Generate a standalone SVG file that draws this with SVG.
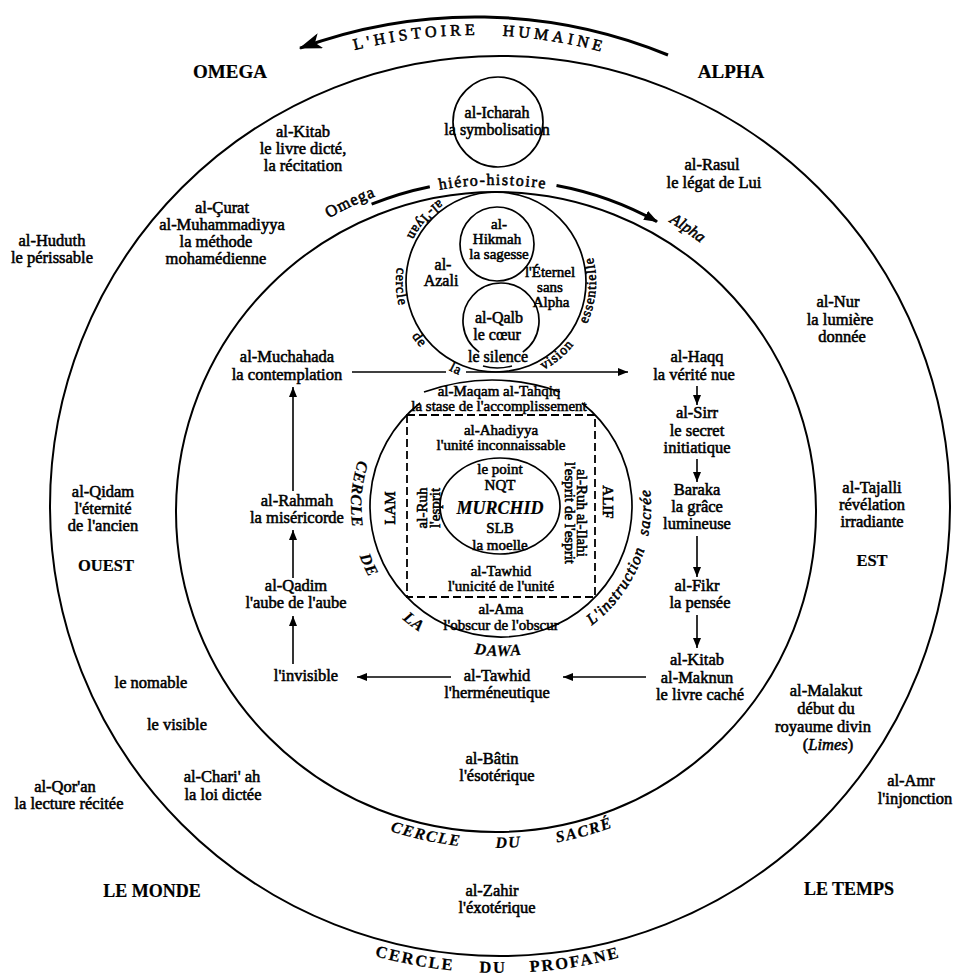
<svg xmlns="http://www.w3.org/2000/svg" width="961" height="979" viewBox="0 0 961 979">
<defs>
<style>
.t{font-family:"Liberation Serif","Times New Roman",serif;font-size:16.5px;text-anchor:middle;fill:#000;stroke:#000;stroke-width:0.55}
.s{font-size:16px}
.h{font-size:15px}
.m{font-size:15px}
.xs{font-size:14px}
.b{font-weight:bold;stroke-width:0.2}
.big{font-size:19px}
.i{font-style:italic}
.c{fill:none;stroke:#000;stroke-width:2}
.c1{fill:none;stroke:#000;stroke-width:1.7}
.a{fill:none;stroke:#000;stroke-width:1.6}
.d{fill:none;stroke:#000;stroke-width:1.8;stroke-dasharray:8 4}
</style>
<marker id="ah" viewBox="0 0 10 8" refX="10" refY="4" markerWidth="10" markerHeight="8" markerUnits="userSpaceOnUse" orient="auto"><path d="M0,0 L10,4 L0,8 Z"/></marker>
<marker id="bh" viewBox="0 0 20 14" refX="19" refY="7" markerWidth="24" markerHeight="16" markerUnits="userSpaceOnUse" orient="auto"><path d="M0,0 L20,7 L0,14 L5,7 Z"/></marker>
<marker id="mh" viewBox="0 0 14 10" refX="13" refY="5" markerWidth="14" markerHeight="10" markerUnits="userSpaceOnUse" orient="auto"><path d="M0,0 L14,5 L0,10 Z"/></marker>
<path id="pHist" d="M15.5,356.8 A489,489 0 0 1 934.5,356.8"/>
<path id="pHero" d="M188.7,400.2 A327,327 0 0 1 803.3,400.2"/>
<path id="pOA" d="M178.4,396.4 A338,338 0 0 1 813.6,396.4"/>
<path id="pVis" d="M496,182 A100,100 0 1 0 496,382 A100,100 0 1 0 496,182"/>
<path id="pDawa" d="M501,356 A150,150 0 1 0 501,656 A150,150 0 1 0 501,356"/>
<path id="pSac" d="M496,176 A336,336 0 1 0 496,848 A336,336 0 1 0 496,176"/>
<path id="pProf" d="M500,39 A467,467 0 1 0 500,973 A467,467 0 1 0 500,39"/>
</defs>
<rect width="961" height="979" fill="#fff"/>

<g id="rings">
<circle id="cercle-profane" class="c" cx="500" cy="506" r="450"/>
<circle id="cercle-sacre" class="c" cx="496" cy="512" r="320"/>
<circle id="cercle-vision" class="c1" cx="496" cy="282" r="90"/>
<circle id="cercle-hikmah" class="c1" cx="497" cy="244" r="37"/>
<path id="cercle-qalb" class="c1" d="M479.2,352.1 A38,38 0 1 1 522.8,352.1"/>
<path class="a" d="M483,366 Q497,370 512,366"/>
<circle id="cercle-icharah" class="c1" cx="498" cy="122" r="45"/>
<path id="cercle-dawa" class="c1" d="M420.1,403 A131,131 0 1 0 581.9,403"/>
<path class="c1" d="M424,392 Q492,368 560,392"/>
<rect id="carre" class="d" x="407" y="415" width="188" height="182"/>
<ellipse id="cercle-murchid" class="c1" cx="500" cy="506" rx="60" ry="48"/>
</g>

<g id="connectors">
<path d="M668,55 A507,507 0 0 0 300,48.2" fill="none" stroke="#000" stroke-width="3" marker-end="url(#bh)"/>
<path d="M371.6,204.2 A332,332 0 0 1 429.8,186.7" fill="none" stroke="#000" stroke-width="3"/>
<path d="M556.5,185.5 A332,332 0 0 1 657,221.6" fill="none" stroke="#000" stroke-width="3" marker-end="url(#mh)"/>
<path class="a" d="M352,372 L446,372"/>
<path class="a" d="M466,372 L628,372" marker-end="url(#ah)"/>
<path class="a" d="M697,386 L697,405" marker-end="url(#ah)"/>
<path class="a" d="M697,459 L697,482" marker-end="url(#ah)"/>
<path class="a" d="M697,536 L697,577" marker-end="url(#ah)"/>
<path class="a" d="M697,615 L697,648" marker-end="url(#ah)"/>
<path class="a" d="M646,677 L563,677" marker-end="url(#ah)"/>
<path class="a" d="M451,677 L357,677" marker-end="url(#ah)"/>
<path class="a" d="M293,664 L293,616" marker-end="url(#ah)"/>
<path class="a" d="M293,578 L293,530" marker-end="url(#ah)"/>
<path class="a" d="M293,491 L293,387" marker-end="url(#ah)"/>
</g>

<g id="ring-labels">
<text class="t s" letter-spacing="4" word-spacing="16"><textPath href="#pHist" startOffset="50.4%">L'HISTOIRE HUMAINE</textPath></text>
<text class="t s" letter-spacing="1.5"><textPath href="#pHero" startOffset="49.6%">hiéro-histoire</textPath></text>
<text class="t" letter-spacing="1"><textPath href="#pOA" startOffset="32%">Omega</textPath></text>
<text class="t s i" style="text-anchor:start"><textPath href="#pOA" startOffset="72%">Alpha</textPath></text>
<g class="t xs" letter-spacing="1">
<text><textPath href="#pVis" startOffset="13.6%">al-'Iyan</textPath></text>
<text><textPath href="#pVis" startOffset="25.8%">cercle</textPath></text>
<text><textPath href="#pVis" startOffset="35.3%">de</textPath></text>
<text><textPath href="#pVis" startOffset="43.1%">la</textPath></text>
<text><textPath href="#pVis" startOffset="61.1%">vision</textPath></text>
<text><textPath href="#pVis" startOffset="73.6%">essentielle</textPath></text>
</g>
<g class="t s b i" letter-spacing="1">
<text><textPath href="#pDawa" startOffset="23.7%">CERCLE</textPath></text>
<text><textPath href="#pDawa" startOffset="31.7%">DE</textPath></text>
<text><textPath href="#pDawa" startOffset="39.75%">LA</textPath></text>
<text><textPath href="#pDawa" startOffset="49.7%">DAWA</textPath></text>
</g>
<text class="t s i" letter-spacing="1" word-spacing="8"><textPath href="#pDawa" startOffset="68.6%">L'instruction sacrée</textPath></text>
<g class="t s b i" letter-spacing="1.5">
<text><textPath href="#pSac" startOffset="46.6%">CERCLE</textPath></text>
<text><textPath href="#pSac" startOffset="50.6%">DU</textPath></text>
<text><textPath href="#pSac" startOffset="54.3%">SACRÉ</textPath></text>
</g>
<g class="t b" letter-spacing="2">
<text><textPath href="#pProf" startOffset="47.05%">CERCLE</textPath></text>
<text><textPath href="#pProf" startOffset="49.76%">DU</textPath></text>
<text><textPath href="#pProf" startOffset="52.6%">PROFANE</textPath></text>
</g>
</g>

<g id="n-omega"><text class="t b big" x="230" y="78">OMEGA</text></g>
<g id="n-alpha"><text class="t b big" x="731" y="78">ALPHA</text></g>
<g id="n-icharah"><text class="t s"><tspan x="497" y="118">al-Icharah</tspan><tspan x="497" y="135">la symbolisation</tspan></text></g>
<g id="n-kitab-dicte"><text class="t"><tspan x="303" y="137">al-Kitab</tspan><tspan x="303" y="154">le livre dicté,</tspan><tspan x="303" y="171">la récitation</tspan></text></g>
<g id="n-rasul"><text class="t"><tspan x="712" y="170">al-Rasul</tspan><tspan x="714" y="188">le légat de Lui</tspan></text></g>
<g id="n-curat"><text class="t"><tspan x="222" y="213">al-Çurat</tspan><tspan x="222" y="230">al-Muhammadiyya</tspan><tspan x="216" y="247">la méthode</tspan><tspan x="216" y="264">mohamédienne</tspan></text></g>
<g id="n-huduth"><text class="t"><tspan x="52" y="246">al-Huduth</tspan><tspan x="52" y="263">le périssable</tspan></text></g>
<g id="n-nur"><text class="t"><tspan x="838" y="307">al-Nur</tspan><tspan x="840" y="325">la lumière</tspan><tspan x="842" y="342">donnée</tspan></text></g>
<g id="n-hikmah"><text class="t h"><tspan x="499" y="229">al-</tspan><tspan x="497" y="244">Hikmah</tspan><tspan x="499" y="259">la sagesse</tspan></text></g>
<g id="n-azali"><text class="t s"><tspan x="443" y="270">al-</tspan><tspan x="441" y="286">Azali</tspan></text></g>
<g id="n-eternel"><text class="t h"><tspan x="550" y="277">l'Éternel</tspan><tspan x="550" y="292">sans</tspan><tspan x="551" y="307">Alpha</tspan></text></g>
<g id="n-qalb"><text class="t s"><tspan x="499" y="323">al-Qalb</tspan><tspan x="497" y="340">le cœur</tspan><tspan x="498" y="362">le silence</tspan></text></g>
<g id="n-muchahada"><text class="t"><tspan x="287" y="362">al-Muchahada</tspan><tspan x="287" y="380">la contemplation</tspan></text></g>
<g id="n-haqq"><text class="t"><tspan x="697" y="362">al-Haqq</tspan><tspan x="694" y="380">la vérité nue</tspan></text></g>
<g id="n-maqam"><text class="t m"><tspan x="499" y="396">al-Maqam al-Tahqiq</tspan><tspan x="499" y="411">la stase de l'accomplissement</tspan></text></g>
<g id="n-sirr"><text class="t"><tspan x="697" y="418">al-Sirr</tspan><tspan x="697" y="436">le secret</tspan><tspan x="697" y="453">initiatique</tspan></text></g>
<g id="n-qidam"><text class="t"><tspan x="103" y="497">al-Qidam</tspan><tspan x="103" y="514">l'éternité</tspan><tspan x="103" y="531">de l'ancien</tspan></text></g>
<g id="n-ouest"><text class="t b" x="106" y="571">OUEST</text></g>
<g id="n-rahmah"><text class="t"><tspan x="297" y="506">al-Rahmah</tspan><tspan x="297" y="523">la miséricorde</tspan></text></g>
<g id="n-baraka"><text class="t"><tspan x="697" y="495">Baraka</tspan><tspan x="697" y="512">la grâce</tspan><tspan x="697" y="529">lumineuse</tspan></text></g>
<g id="n-tajalli"><text class="t"><tspan x="872" y="493">al-Tajalli</tspan><tspan x="872" y="510">révélation</tspan><tspan x="872" y="527">irradiante</tspan></text></g>
<g id="n-est"><text class="t b" x="872" y="566">EST</text></g>
<g id="n-ahadiyya"><text class="t m"><tspan x="501" y="435">al-Ahadiyya</tspan><tspan x="501" y="450">l'unité inconnaissable</tspan></text></g>
<g id="n-murchid"><text class="t m"><tspan x="500" y="474">le point</tspan><tspan x="500" y="490">NQT</tspan><tspan x="500" y="514" class="b i" style="font-size:18px">MURCHID</tspan><tspan x="500" y="533">SLB</tspan><tspan x="500" y="550">la moelle</tspan></text></g>
<g id="n-ruh"><text class="t m" transform="translate(427,508) rotate(-90)">al-Ruh</text><text class="t m" transform="translate(440,508) rotate(-90)">l'esprit</text></g>
<g id="n-ruh-ilahi"><text class="t m" transform="translate(577,513) rotate(90)">al-Ruh al-Ilahi</text><text class="t m" transform="translate(565,513) rotate(90)">l'esprit de l'esprit</text></g>
<g id="n-lam"><text class="t m" transform="translate(395,508) rotate(-90)">LAM</text></g>
<g id="n-alif"><text class="t m" transform="translate(603,502) rotate(90)">ALIF</text></g>
<g id="n-tawhid-unite"><text class="t m"><tspan x="501" y="576">al-Tawhid</tspan><tspan x="501" y="591">l'unicité de l'unité</tspan></text></g>
<g id="n-ama"><text class="t m"><tspan x="501" y="614">al-Ama</tspan><tspan x="501" y="630">l'obscur de l'obscur</tspan></text></g>
<g id="n-qadim"><text class="t"><tspan x="296" y="591">al-Qadim</tspan><tspan x="296" y="608">l'aube de l'aube</tspan></text></g>
<g id="n-fikr"><text class="t"><tspan x="697" y="591">al-Fikr</tspan><tspan x="700" y="608">la pensée</tspan></text></g>
<g id="n-kitab-maknun"><text class="t"><tspan x="697" y="665">al-Kitab</tspan><tspan x="697" y="683">al-Maknun</tspan><tspan x="700" y="700">le livre caché</tspan></text></g>
<g id="n-invisible"><text class="t" x="306" y="681">l'invisible</text></g>
<g id="n-tawhid-herm"><text class="t"><tspan x="497" y="681">al-Tawhid</tspan><tspan x="497" y="698">l'herméneutique</tspan></text></g>
<g id="n-nomable"><text class="t" x="151" y="688">le nomable</text></g>
<g id="n-visible"><text class="t" x="177" y="730">le visible</text></g>
<g id="n-chariah"><text class="t"><tspan x="222" y="782">al-Chari' ah</tspan><tspan x="223" y="800">la loi dictée</tspan></text></g>
<g id="n-malakut"><text class="t"><tspan x="826" y="696">al-Malakut</tspan><tspan x="826" y="714">début du</tspan><tspan x="823" y="732">royaume divin</tspan><tspan x="828" y="750">(<tspan class="i">Limes</tspan>)</tspan></text></g>
<g id="n-amr"><text class="t"><tspan x="911" y="786">al-Amr</tspan><tspan x="915" y="804">l'injonction</tspan></text></g>
<g id="n-qoran"><text class="t"><tspan x="65" y="792">al-Qor'an</tspan><tspan x="69" y="809">la lecture récitée</tspan></text></g>
<g id="n-batin"><text class="t"><tspan x="492" y="764">al-Bâtin</tspan><tspan x="497" y="781">l'ésotérique</tspan></text></g>
<g id="n-zahir"><text class="t"><tspan x="492" y="896">al-Zahir</tspan><tspan x="497" y="913">l'éxotérique</tspan></text></g>
<g id="n-monde"><text class="t b" style="font-size:18px" x="152" y="897">LE MONDE</text></g>
<g id="n-temps"><text class="t b" style="font-size:18px" x="849" y="895">LE TEMPS</text></g>
</svg>
